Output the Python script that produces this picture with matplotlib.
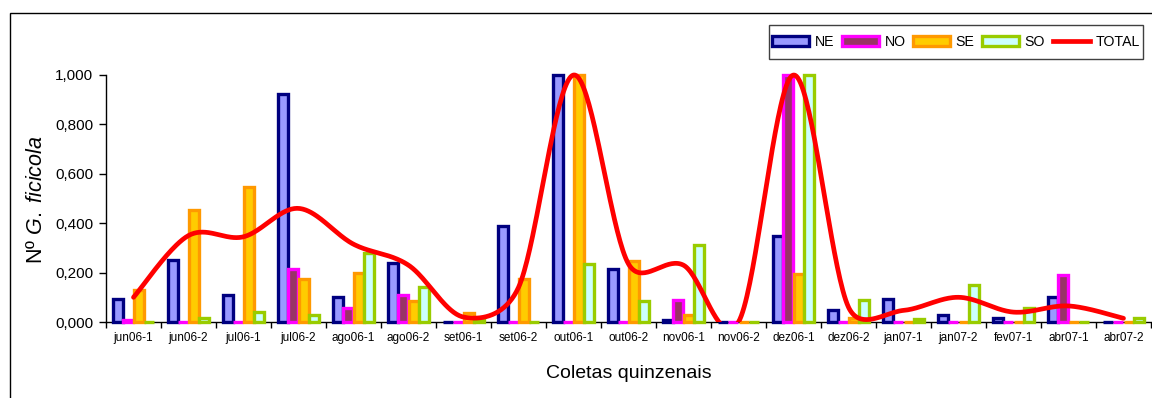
import numpy as np
import matplotlib
matplotlib.use("Agg")
import matplotlib.pyplot as plt
from matplotlib.patches import Rectangle
from matplotlib.lines import Line2D
from matplotlib.ticker import FixedLocator, FuncFormatter, NullFormatter

categories = ["jun06-1", "jun06-2", "jul06-1", "jul06-2", "ago06-1", "ago06-2",
              "set06-1", "set06-2", "out06-1", "out06-2", "nov06-1", "nov06-2",
              "dez06-1", "dez06-2", "jan07-1", "jan07-2", "fev07-1", "abr07-1", "abr07-2"]
ne = [0.095, 0.25, 0.11, 0.925, 0.10, 0.24, 0.0, 0.39, 1.0, 0.215, 0.01, 0.0,
      0.35, 0.05, 0.095, 0.03, 0.017, 0.10, 0.0]
no = [0.01, 0.0, 0.0, 0.215, 0.057, 0.11, 0.0, 0.0, 0.0, 0.0, 0.09, 0.0,
      1.0, 0.0, 0.0, 0.0, 0.0, 0.19, 0.0]
se = [0.13, 0.455, 0.545, 0.175, 0.20, 0.085, 0.037, 0.175, 1.0, 0.245, 0.03, 0.0,
      0.195, 0.017, 0.0, 0.0, 0.0, 0.0, 0.0]
so = [0.0, 0.017, 0.04, 0.03, 0.28, 0.14, 0.013, 0.0, 0.235, 0.085, 0.31, 0.0,
      1.0, 0.09, 0.012, 0.15, 0.057, 0.0, 0.017]
total = [0.10, 0.35, 0.345, 0.46, 0.315, 0.23, 0.02, 0.14, 1.0, 0.235, 0.23, 0.0,
         1.0, 0.06, 0.047, 0.10, 0.04, 0.065, 0.015]
series_names = ["NE", "NO", "SE", "SO"]
yticks = [0.0, 0.2, 0.4, 0.6, 0.8, 1.0]

plt.rcParams["font.family"] = ["Liberation Sans", "DejaVu Sans"]
plt.rcParams["mathtext.fontset"] = "custom"
plt.rcParams["mathtext.rm"] = "Liberation Sans"
plt.rcParams["mathtext.it"] = "Liberation Sans:italic"

W, H = 1152, 398
fig = plt.figure(figsize=(W / 100, H / 100), dpi=100)
ax = fig.add_axes([106 / W, (H - 322) / H, (1151 - 106) / W, (322 - 75) / H])

x = np.arange(len(categories))
ax.set_xlim(-0.5, len(categories) - 0.5)
ax.set_ylim(0, 1.0)

step = 0.187
bw = 0.185
styles = [("#9999FF", "#000080"), ("#993366", "#FF00FF"),
          ("#FFCC00", "#FF9900"), ("#CCFFFF", "#99CC00")]
handles = []
for k, (vals, (fc, ec)) in enumerate(zip([ne, no, se, so], styles)):
    bars = ax.bar(x + (k - 1.5) * step, vals, width=bw, facecolor=fc,
                  edgecolor=ec, linewidth=2.4, clip_on=False, zorder=2 + k * 0.01)
    handles.append(bars)


def smooth_display(pts, n=40):
    """Excel-like smoothed line: Catmull-Rom Bezier with control length capped."""
    pts = np.asarray(pts, float)
    out = []
    m = len(pts)
    for i in range(m - 1):
        p0 = pts[i - 1] if i > 0 else pts[i]
        p1 = pts[i]
        p2 = pts[i + 1]
        p3 = pts[i + 2] if i + 2 < m else pts[i + 1]
        d12 = np.hypot(*(p2 - p1))
        v1 = p2 - p0
        v2 = p3 - p1
        n1 = np.hypot(*v1)
        n2 = np.hypot(*v2)
        c1 = p1 + (v1 / n1 * min(n1 / 6.0, d12 / 2.0) if n1 > 0 else 0)
        c2 = p2 - (v2 / n2 * min(n2 / 6.0, d12 / 2.0) if n2 > 0 else 0)
        t = np.linspace(0, 1, n)[:, None]
        seg = (1 - t) ** 3 * p1 + 3 * (1 - t) ** 2 * t * c1 + 3 * (1 - t) * t ** 2 * c2 + t ** 3 * p2
        out.append(seg if i == 0 else seg[1:])
    return np.vstack(out)


disp = ax.transData.transform(np.column_stack([x, total]))
sm = ax.transData.inverted().transform(smooth_display(disp))
line, = ax.plot(sm[:, 0], sm[:, 1], color="#FF0000", lw=3.4,
                solid_capstyle="round", solid_joinstyle="round", zorder=5)
clip = Rectangle((0, 0), 1, 1.1, transform=ax.transAxes, facecolor="none", edgecolor="none")
ax.add_patch(clip)
line.set_clip_path(clip)

ax.xaxis.set_major_locator(FixedLocator(np.arange(-0.5, len(categories), 1.0)))
ax.xaxis.set_major_formatter(NullFormatter())
ax.xaxis.set_minor_locator(FixedLocator(x))
ax.set_xticklabels(categories, minor=True)
ax.tick_params(axis="x", which="major", direction="out", length=4, width=1, color="black")
ax.tick_params(axis="x", which="minor", length=0, pad=7, labelsize=8.5)
ax.set_yticks(yticks)
ax.yaxis.set_major_formatter(FuncFormatter(lambda v, p: f"{v:.3f}".replace(".", ",")))
ax.tick_params(axis="y", direction="out", length=5, width=1, pad=4, labelsize=11)
for s in ["top", "right"]:
    ax.spines[s].set_visible(False)
for s in ["left", "bottom"]:
    ax.spines[s].set_linewidth(1.0)
    ax.spines[s].set_color("black")
    ax.spines[s].set_zorder(1)

fig.text(37 / W, (H - 200) / H, r"Nº $\mathit{G.\ ficicola}$", rotation=90,
         ha="center", va="center", fontsize=15.5)
fig.text(629 / W, (H - 373) / H, "Coletas quinzenais", ha="center", va="center", fontsize=14)

leg_handles = handles + [Line2D([], [], color="#FF0000", lw=3.4)]
leg = ax.legend(leg_handles, series_names + ["TOTAL"], ncol=5, loc="center",
                bbox_to_anchor=(956 / W, (H - 42) / H), bbox_transform=fig.transFigure,
                frameon=False, borderaxespad=0, borderpad=0, handlelength=2.6,
                handletextpad=0.4, columnspacing=0.54, fontsize=10.2)
leg.set_zorder(10)
legbox = Rectangle((769 / W, (H - 59) / H), (1143 - 769) / W, 34 / H,
                   transform=fig.transFigure, facecolor="white", edgecolor="#404040",
                   linewidth=1.0, zorder=9, clip_on=False)
ax.add_artist(legbox)

frame = Rectangle((10 / W, -0.2), 1.2, (H - 12.5) / H + 0.2, transform=fig.transFigure,
                  facecolor="none", edgecolor="black", linewidth=1.0, clip_on=False)
fig.patches.append(frame)

fig.savefig("out.png", dpi=100)
